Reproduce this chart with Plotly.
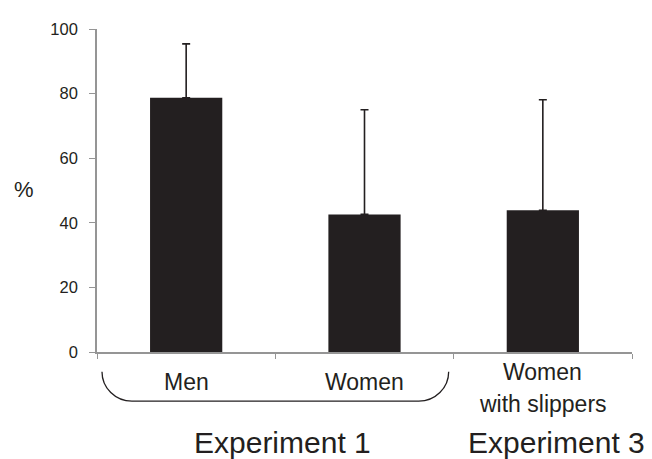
import plotly.graph_objects as go

# ---- data ----
categories = ["Men", "Women", "Women<br>with slippers"]
values = [78.7, 42.6, 43.9]
err_plus = [16.7, 32.4, 34.2]
group_labels = ["Experiment 1", "Experiment 3"]
y_ticks = [0, 20, 40, 60, 80, 100]
y_label = "%"

DARK = "#231f20"
GREY = "#959595"
FONT = "Arial, 'Liberation Sans', sans-serif"

x_idx = list(range(len(categories)))

fig = go.Figure()
fig.add_trace(go.Bar(
    x=x_idx, y=values, width=0.405,
    marker=dict(color=DARK, line=dict(width=0)),
    error_y=dict(type="data", symmetric=False, array=err_plus,
                 arrayminus=[0] * len(values),
                 color=DARK, thickness=1.6, width=4),
    showlegend=False,
))

# category labels (multi-line labels vertically centred like the original)
for i, lab in enumerate(categories):
    lines = lab.split("<br>")
    if len(lines) == 1:
        ys = [-0.094]
    else:
        ys = [-0.061 - 0.1 * k for k in range(len(lines))]
    for ln, yy in zip(lines, ys):
        fig.add_annotation(x=x_idx[i], y=yy, xref="x", yref="paper",
                           text=ln, showarrow=False, xanchor="center", yanchor="middle",
                           font=dict(family=FONT, size=23, color=DARK))

# experiment group labels
fig.add_annotation(x=0.54, y=-0.279, xref="x", yref="paper", text=group_labels[0],
                   showarrow=False, xanchor="center", yanchor="middle",
                   font=dict(family=FONT, size=30, color=DARK))
fig.add_annotation(x=2.074, y=-0.279, xref="x", yref="paper", text=group_labels[1],
                   showarrow=False, xanchor="center", yanchor="middle",
                   font=dict(family=FONT, size=30, color=DARK))

# y label
fig.add_annotation(x=-0.137, y=0.503, xref="paper", yref="paper", text=y_label,
                   showarrow=False, xanchor="center", yanchor="middle",
                   font=dict(family=FONT, size=22, color=DARK))

# brace under Experiment 1
x0, x1 = -0.472, 1.472
rx = 0.168
yt, yb = -0.0608, -0.152
k = 0.5523
path = (f"M {x0},{yt} C {x0},{yt + (yb - yt) * k} {x0 + rx * (1 - k)},{yb} {x0 + rx},{yb} "
        f"L {x1 - rx},{yb} C {x1 - rx * (1 - k)},{yb} {x1},{yt + (yb - yt) * k} {x1},{yt}")
fig.add_shape(type="path", path=path, xref="x", yref="paper",
              line=dict(color=DARK, width=1.3))

fig.update_xaxes(range=[-0.5, 2.5], tickmode="array",
                 tickvals=[-0.5, 0.5, 1.5, 2.5], ticktext=["", "", "", ""],
                 ticks="outside", ticklen=5, tickcolor=GREY, tickwidth=1.3,
                 showline=True, linecolor=GREY, linewidth=1.6,
                 showgrid=False, zeroline=False)
fig.update_yaxes(range=[0, 100], tickmode="array", tickvals=y_ticks,
                 ticks="outside", ticklen=6, tickcolor=GREY, tickwidth=1.3,
                 showline=True, linecolor=GREY, linewidth=1.6,
                 showgrid=False, zeroline=False, ticklabelstandoff=8,
                 tickfont=dict(family=FONT, size=16.5, color=DARK))

# page body has an 8px margin, so the figure is 8px smaller and margins shifted
fig.update_layout(width=644, height=451,
                  margin=dict(l=89, r=20, t=15, b=107),
                  paper_bgcolor="white", plot_bgcolor="white",
                  font=dict(family=FONT, color=DARK))

fig.write_html("out.html")
